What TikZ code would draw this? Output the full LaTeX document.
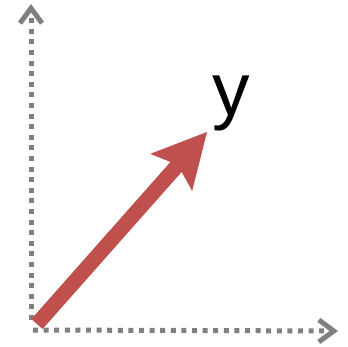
\documentclass[tikz,border=0pt]{standalone}
\usepackage{xcolor}
\usepackage{fontspec}
\usepackage{tikz}
\usetikzlibrary{arrows.meta}
\newfontfamily\labelfont{Liberation Sans}
\definecolor{AxisGray}{RGB}{128,128,128}
\definecolor{VecRed}{RGB}{192,80,77}

\begin{document}
\begin{tikzpicture}[
 x=1pt, y=-1pt,
 axis/.style={AxisGray, line width=5pt, dash pattern=on 5pt off 5.6pt, -{Straight Barb[length=15pt, width=22pt, line width=5pt]}},
 vector/.style={VecRed, line width=15pt, -{Stealth[length=54pt, width=56pt, inset=10pt, line width=0pt]}},
 veclabel/.style={anchor=base, inner sep=0pt, font=\labelfont\fontsize{75}{75}\selectfont}
]
\useasboundingbox (0,0) rectangle (348,347);
\coordinate (yfoot) at (31,320);
\coordinate (ytop)  at (31,4);
\coordinate (xfoot) at (33,330);
\coordinate (xend)  at (338,331);
\coordinate (vfoot) at (37,324);
\coordinate (vtip)  at (207,132);
\node[veclabel] (ylabel) at (231,116) {y};

\draw[axis] (yfoot) -- (ytop);
\draw[axis] (xfoot) -- (xend);
\draw[vector] (vfoot) -- (vtip);
\end{tikzpicture}
\end{document}
